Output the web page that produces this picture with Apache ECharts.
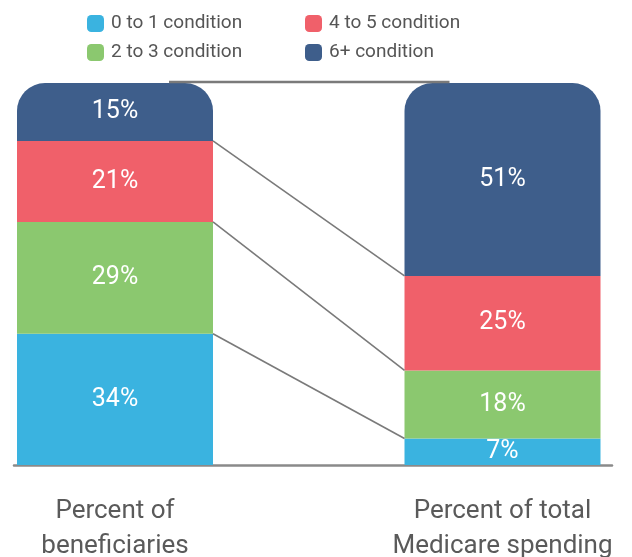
<!DOCTYPE html>
<html>
<head>
<meta charset="utf-8">
<script src="https://cdn.jsdelivr.net/npm/echarts@6/dist/echarts.min.js"></script>
<style>
  html, body { margin: 0; padding: 0; background: #fff; }
  #main { width: 632px; height: 557px; }
</style>
</head>
<body>
<div id="main"></div>
<script>
// categories (x axis) and condition groups (stack order, bottom to top)
const categories = ['Percent of\nbeneficiaries', 'Percent of total\nMedicare spending'];
const groups = ['0 to 1 condition', '2 to 3 condition', '4 to 5 condition', '6+ condition'];
const colors = ['#3AB3E0', '#8BC86F', '#F0606A', '#3E5E8B'];
// percent shares per group
const beneficiaries = [34, 29, 21, 15];
const spending = [7, 18, 25, 51];

const sumL = beneficiaries.reduce((a, b) => a + b, 0);
const sumR = spending.reduce((a, b) => a + b, 0);
const normL = beneficiaries.map(v => v / sumL * 100);
const normR = spending.map(v => v / sumR * 100);

// cumulative boundaries for connector lines
const bounds = [];
let cl = 0, cr = 0;
for (let i = 0; i < groups.length; i++) {
  cl += normL[i]; cr += normR[i];
  bounds.push([0, cl, cr, i === groups.length - 1 ? 1 : 0]);
}

const BAR_W = 196;
const chart = echarts.init(document.getElementById('main'));

const barSeries = groups.map((g, i) => ({
  name: g,
  type: 'bar',
  stack: 'total',
  barWidth: BAR_W,
  z: 3,
  itemStyle: {
    color: colors[i],
    borderRadius: i === groups.length - 1 ? [28, 28, 0, 0] : 0
  },
  label: {
    show: true,
    position: 'inside',
    color: '#fff',
    fontSize: 25,
    fontFamily: 'Roboto',
    formatter: p => (p.dataIndex === 0 ? beneficiaries[i] : spending[i]) + '%'
  },
  data: [normL[i], normR[i]]
}));

const legendLeft = [87, 87, 305, 305];
const legendTop = [14, 43, 14, 43];

chart.setOption({
  animation: false,
  color: colors,
  legend: groups.map((g, i) => ({
    data: [g],
    left: legendLeft[i],
    top: legendTop[i],
    padding: 0,
    itemWidth: 17,
    itemHeight: 17,
    itemGap: 0,
    icon: 'roundRect',
    textStyle: { fontSize: 19, color: '#555', fontFamily: 'Roboto', padding: [0, 0, 0, 2] }
  })),
  grid: [
    { left: 115, right: 129.5, top: 83, bottom: 92, outerBoundsMode: 'none', containLabel: false },
    { left: 14, right: 20, top: 83, bottom: 92, outerBoundsMode: 'none', containLabel: false }
  ],
  xAxis: [
    {
      type: 'category',
      gridIndex: 0,
      data: categories,
      boundaryGap: false,
      axisLine: { show: false },
      axisTick: { show: false },
      axisLabel: {
        margin: 29,
        fontSize: 26,
        lineHeight: 35,
        color: '#5a5a5a',
        fontFamily: 'Roboto'
      }
    },
    {
      type: 'category',
      gridIndex: 1,
      data: ['', ''],
      axisLine: { show: true, lineStyle: { color: '#8a8a8a', width: 2.5 } },
      axisTick: { show: false },
      axisLabel: { show: false }
    }
  ],
  yAxis: [
    { type: 'value', gridIndex: 0, min: 0, max: 100, show: false },
    { type: 'value', gridIndex: 1, min: 0, max: 100, show: false }
  ],
  series: barSeries.concat([
    {
      type: 'custom',
      xAxisIndex: 0,
      yAxisIndex: 0,
      z: 4,
      silent: true,
      encode: { x: 0, y: [1, 2] },
      renderItem: (params, api) => {
        const p1 = api.coord([0, api.value(1)]);
        const p2 = api.coord([1, api.value(2)]);
        const top = api.value(3) === 1;
        const x1 = top ? p1[0] + 54 : p1[0] + BAR_W / 2;
        const x2 = top ? p2[0] - 53 : p2[0] - BAR_W / 2;
        const dy = top ? -1 : 0;
        return {
          type: 'line',
          shape: { x1: x1, y1: p1[1] + dy, x2: x2, y2: p2[1] + dy },
          style: { stroke: '#7a7a7a', lineWidth: top ? 2.5 : 1.6 }
        };
      },
      data: bounds
    }
  ])
});
</script>
</body>
</html>
